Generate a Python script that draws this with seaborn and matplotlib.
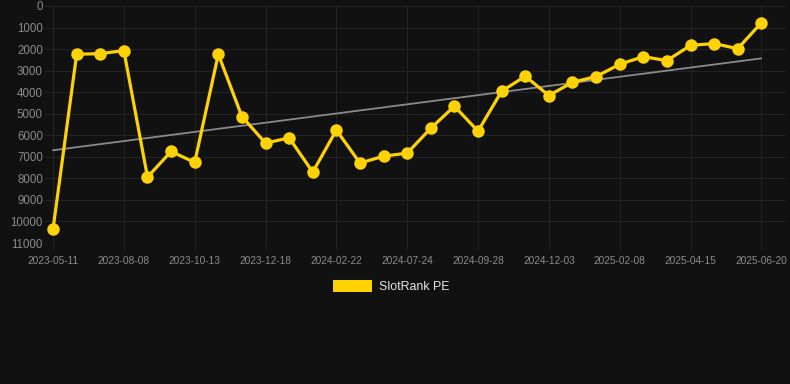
import matplotlib
matplotlib.use("Agg")
import matplotlib.pyplot as plt
import seaborn as sns
import numpy as np
import pandas as pd
from matplotlib.patches import Patch

# Data
tick_labels = ["2023-05-11", "2023-08-08", "2023-10-13", "2023-12-18", "2024-02-22",
               "2024-07-24", "2024-09-28", "2024-12-03", "2025-02-08", "2025-04-15",
               "2025-06-20"]
rank_values = [10350, 2240, 2210, 2070, 7940, 6750, 7260, 2240, 5130, 6365,
               6120, 7710, 5760, 7290, 6970, 6830, 5670, 4650, 5810, 3955,
               3260, 4155, 3540, 3275, 2705, 2350, 2535, 1825, 1745, 1980, 775]
y_ticks = list(range(0, 11001, 1000))
series_name = "SlotRank PE"

df = pd.DataFrame({"idx": np.arange(len(rank_values)), "rank": rank_values})

bg = "#111111"
grid_c = "#232323"
tick_c = "#8c8c8c"
yellow = "#FFD200"

sns.set_theme(style="dark")
plt.rcParams["font.family"] = ["Liberation Sans", "DejaVu Sans"]

fig = plt.figure(figsize=(7.9, 3.84), dpi=100, facecolor=bg)
ax = fig.add_axes([45 / 790, 1 - 243 / 384, 740 / 790, 237 / 384])
ax.set_facecolor(bg)

sns.regplot(data=df, x="idx", y="rank", scatter=False, ci=None, ax=ax,
            line_kws=dict(color="#8a8a8a", lw=1.3, zorder=2))
sns.lineplot(data=df, x="idx", y="rank", ax=ax, color=yellow, lw=2.3,
             marker="o", markersize=9, markeredgewidth=0, zorder=3)

ax.set_ylim(11000, 0)
ax.set_xlim(-0.34, len(rank_values) - 1 + 1.0)
ax.set_yticks(y_ticks)
ax.set_yticklabels([str(v) for v in y_ticks])
ax.set_xticks(np.arange(0, len(rank_values), 3))
ax.set_xticklabels(tick_labels)
ax.set_xlabel("")
ax.set_ylabel("")

ax.grid(True, color=grid_c, lw=0.8)
ax.set_axisbelow(True)
for s in ax.spines.values():
    s.set_visible(False)
ax.tick_params(axis="y", colors=tick_c, labelsize=8.3, length=0, pad=1.5)
ax.tick_params(axis="x", colors=grid_c, labelcolor=tick_c, labelsize=7.3,
               length=5, width=0.8, pad=4, bottom=True)
ax.axhline(11000, color=grid_c, lw=0.8)

leg = fig.legend(handles=[Patch(facecolor=yellow, edgecolor="none", label=series_name)],
                 loc="center", bbox_to_anchor=(391 / 790, 1 - 286.5 / 384),
                 frameon=False, fontsize=8.9, handlelength=3.2, handleheight=1.1,
                 handletextpad=0.5, labelcolor="#e6e6e6")

fig.savefig("out.png", dpi=100, facecolor=bg)
